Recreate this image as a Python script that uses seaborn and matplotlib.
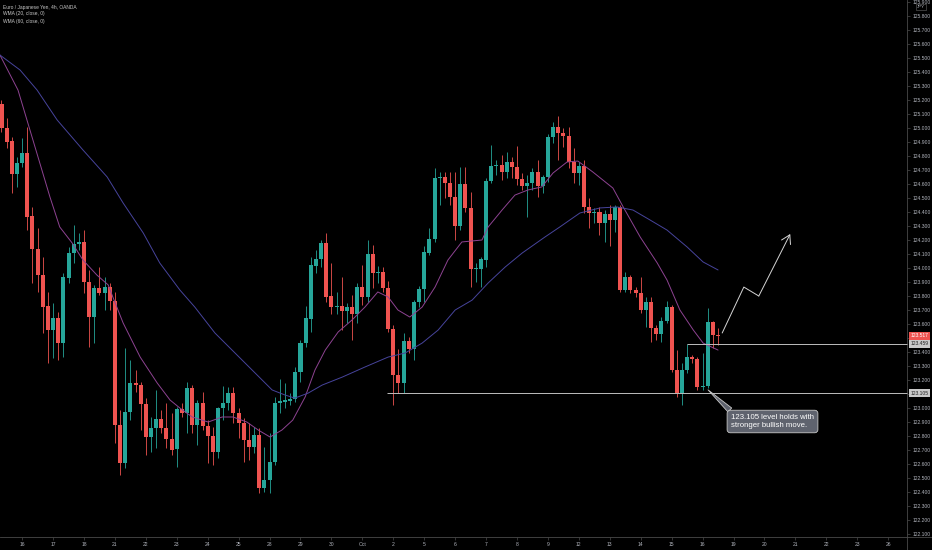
import numpy as np
import pandas as pd
import matplotlib
matplotlib.use("Agg")
import matplotlib.pyplot as plt
import seaborn as sns

# ---------------- data ----------------
opens = [125.171, 125.000, 124.907, 124.671, 124.750, 124.821, 124.371, 124.136, 123.950, 123.729,
         123.557, 123.643, 123.464, 123.929, 124.107, 124.171, 124.186, 123.900, 123.650, 123.857,
         123.821, 123.864, 123.764, 122.879, 122.607, 122.971, 123.179, 123.164, 123.029, 122.793,
         122.857, 122.921, 122.857, 122.779, 122.707, 122.993, 122.964, 123.143, 122.879, 123.036,
         122.871, 122.800, 122.686, 123.000, 123.036, 123.107, 122.964, 122.893, 122.771, 122.721,
         122.807, 122.429, 122.486, 122.614, 123.036, 123.043, 123.050, 123.064, 123.257, 123.464,
         123.636, 124.014, 124.064, 124.179, 123.800, 123.721, 123.729, 123.693, 123.721, 123.671,
         123.864, 123.793, 124.100, 123.964, 123.971, 123.857, 123.564, 123.236, 123.179, 123.479,
         123.421, 123.757, 123.850, 124.107, 124.207, 124.643, 124.650, 124.607, 124.507, 124.300,
         124.600, 124.429, 123.993, 123.993, 124.057, 124.621, 124.729, 124.736, 124.686, 124.757,
         124.721, 124.636, 124.586, 124.607, 124.686, 124.586, 124.650, 124.936, 125.007, 124.964,
         124.943, 124.757, 124.679, 124.729, 124.436, 124.393, 124.400, 124.321, 124.386, 124.343,
         124.436, 123.843, 123.936, 123.843, 123.821, 123.700, 123.757, 123.571, 123.529, 123.621,
         123.721, 123.271, 123.107, 123.271, 123.364, 123.350, 123.150, 123.157, 123.614, 123.525]

highs = [125.200, 125.071, 124.936, 124.793, 124.929, 125.007, 124.436, 124.286, 124.079, 123.829,
         123.750, 123.686, 123.964, 124.150, 124.307, 124.250, 124.271, 123.986, 123.879, 124.007,
         123.936, 123.893, 123.829, 122.986, 123.429, 123.343, 123.271, 123.186, 123.071, 122.936,
         123.129, 122.986, 123.036, 122.964, 123.007, 123.036, 123.186, 123.164, 123.057, 123.114,
         122.914, 122.864, 123.007, 123.157, 123.150, 123.150, 123.000, 122.929, 122.893, 122.864,
         122.857, 122.721, 122.821, 123.079, 123.207, 123.179, 123.107, 123.293, 123.486, 123.729,
         124.079, 124.129, 124.200, 124.250, 124.036, 123.829, 123.936, 123.750, 123.807, 123.893,
         124.021, 124.200, 124.164, 124.014, 124.007, 123.907, 123.593, 123.421, 123.536, 123.507,
         123.771, 123.871, 124.157, 124.286, 124.714, 124.686, 124.686, 124.686, 124.686, 124.721,
         124.721, 124.543, 124.036, 124.079, 124.643, 124.879, 124.771, 124.807, 124.829, 124.793,
         124.871, 124.679, 124.664, 124.714, 124.771, 124.664, 124.957, 125.043, 125.086, 125.000,
         125.007, 124.857, 124.757, 124.771, 124.500, 124.429, 124.436, 124.414, 124.450, 124.450,
         124.450, 123.971, 123.950, 123.864, 123.936, 123.793, 123.793, 123.593, 123.650, 123.764,
         123.736, 123.414, 123.321, 123.459, 123.379, 123.364, 123.393, 123.714, 123.621, 123.571]

lows = [124.971, 124.857, 124.536, 124.579, 124.721, 124.271, 123.893, 123.829, 123.536, 123.321,
        123.357, 123.343, 123.364, 123.893, 124.036, 124.129, 123.821, 123.436, 123.464, 123.807,
        123.700, 123.700, 122.750, 122.521, 122.571, 122.914, 123.114, 122.843, 122.664, 122.686,
        122.714, 122.821, 122.714, 122.664, 122.579, 122.936, 122.821, 122.821, 122.736, 122.843,
        122.607, 122.593, 122.643, 122.914, 122.986, 122.893, 122.786, 122.614, 122.629, 122.679,
        122.393, 122.400, 122.393, 122.593, 122.964, 123.000, 123.021, 123.043, 123.186, 123.436,
        123.543, 123.964, 124.007, 123.757, 123.671, 123.671, 123.557, 123.607, 123.486, 123.607,
        123.736, 123.757, 123.857, 123.893, 123.829, 123.543, 123.021, 123.107, 123.107, 123.393,
        123.343, 123.721, 123.757, 124.093, 124.186, 124.450, 124.500, 124.450, 124.200, 124.271,
        124.400, 123.864, 123.900, 123.864, 124.007, 124.607, 124.664, 124.629, 124.643, 124.643,
        124.593, 124.557, 124.364, 124.557, 124.507, 124.536, 124.614, 124.893, 124.771, 124.864,
        124.714, 124.607, 124.593, 124.393, 124.286, 124.321, 124.236, 124.186, 124.157, 124.257,
        123.829, 123.829, 123.821, 123.793, 123.679, 123.579, 123.471, 123.486, 123.471, 123.607,
        123.257, 123.079, 123.021, 123.250, 123.321, 123.129, 123.129, 123.143, 123.429, 123.450]

closes = [125.000, 124.900, 124.671, 124.750, 124.821, 124.364, 124.136, 123.950, 123.721, 123.557,
          123.643, 123.464, 123.936, 124.107, 124.171, 124.186, 123.900, 123.650, 123.857, 123.821,
          123.864, 123.764, 122.879, 122.607, 122.971, 123.179, 123.164, 123.029, 122.793, 122.857,
          122.921, 122.857, 122.779, 122.700, 122.993, 122.964, 123.143, 122.879, 123.036, 122.871,
          122.800, 122.686, 123.000, 123.036, 123.107, 122.964, 122.893, 122.771, 122.721, 122.807,
          122.429, 122.486, 122.614, 123.036, 123.050, 123.057, 123.064, 123.257, 123.464, 123.643,
          124.021, 124.064, 124.179, 123.793, 123.721, 123.729, 123.693, 123.721, 123.671, 123.864,
          123.793, 124.100, 123.964, 123.971, 123.857, 123.564, 123.236, 123.179, 123.479, 123.421,
          123.757, 123.850, 124.114, 124.207, 124.643, 124.650, 124.607, 124.507, 124.300, 124.600,
          124.429, 123.993, 124.000, 124.064, 124.621, 124.729, 124.736, 124.686, 124.757, 124.721,
          124.636, 124.586, 124.607, 124.686, 124.586, 124.650, 124.936, 125.007, 124.964, 124.943,
          124.757, 124.679, 124.729, 124.436, 124.393, 124.400, 124.321, 124.386, 124.343, 124.436,
          123.843, 123.936, 123.843, 123.821, 123.700, 123.757, 123.571, 123.529, 123.621, 123.721,
          123.271, 123.107, 123.271, 123.364, 123.350, 123.150, 123.157, 123.614, 123.521, 123.517]

# WMA lines (bar position, value)
wma20_bar = [-0.3, 3.2, 6.1, 9.4, 11.3, 13.7, 15.8, 18.5, 20.7, 21.6, 23.6, 26.9, 30.2, 32.7, 34.6,
             37.0, 40.1, 42.8, 44.9, 47.6, 49.8, 52.1, 54.4, 56.5, 58.9, 60.8, 62.8, 65.3, 68.0, 70.5,
             73.0, 75.0, 76.9, 79.2, 81.6, 84.1, 86.6, 89.3, 93.2, 94.4, 97.1, 99.6, 102.1, 104.8,
             107.0, 109.7, 111.8, 114.7, 118.6, 120.6, 123.9, 127.2, 129.1, 131.6, 134.2, 136.1, 139.0]
wma20_val = [125.521, 125.271, 124.914, 124.507, 124.293, 124.179, 124.057, 123.950, 123.879, 123.793,
             123.607, 123.364, 123.179, 123.057, 123.000, 122.936, 122.900, 122.936, 122.936, 122.900,
             122.843, 122.793, 122.843, 122.914, 123.079, 123.271, 123.414, 123.543, 123.629, 123.721,
             123.829, 123.793, 123.700, 123.650, 123.721, 123.864, 124.057, 124.186, 124.200, 124.293,
             124.414, 124.521, 124.557, 124.579, 124.679, 124.757, 124.764, 124.686, 124.571, 124.436,
             124.221, 124.036, 123.914, 123.700, 123.557, 123.464, 123.414]

wma60_bar = [-0.3, 3.6, 6.9, 10.8, 15.8, 20.5, 23.6, 27.5, 30.7, 34.6, 37.5, 41.4, 45.3, 49.2, 52.5,
             55.0, 56.9, 59.5, 62.2, 66.1, 70.5, 75.0, 78.3, 81.6, 84.7, 88.0, 91.3, 94.4, 97.7, 101.0,
             105.4, 108.3, 112.2, 116.1, 119.4, 122.5, 125.8, 129.1, 133.0, 136.1, 139.0]
wma60_val = [125.521, 125.414, 125.271, 125.057, 124.843, 124.650, 124.464, 124.250, 124.036, 123.843,
             123.721, 123.536, 123.393, 123.250, 123.129, 123.093, 123.071, 123.107, 123.164, 123.221,
             123.293, 123.364, 123.393, 123.464, 123.557, 123.700, 123.771, 123.893, 124.007, 124.107,
             124.221, 124.293, 124.393, 124.429, 124.436, 124.414, 124.343, 124.271, 124.150, 124.043,
             123.986]

day_labels = ['16', '17', '18', '21', '22', '23', '24', '25', '28', '29', '30', 'Oct', '2', '5', '6',
              '7', '8', '9', '12', '13', '14', '15', '16', '19', '20', '21', '22', '23', '26']

support_level = 123.105
range_level = 123.459
last_price = 123.517
projection_bar = [139.8, 144.0, 146.9, 153.0]
projection_val = [123.536, 123.864, 123.800, 124.243]

title_lines = ['Euro / Japanese Yen, 4h, OANDA', 'WMA (20, close, 0)', 'WMA (60, close, 0)']
note_text = '123.105 level holds with\nstronger bullish move.'

# ---------------- styling ----------------
UP = '#26a69a'
DOWN = '#ef5350'
TXT = '#b2b5be'
AXC = '#4a4a4a'

sns.set_theme(style='dark', rc={'axes.facecolor': 'black', 'figure.facecolor': 'black',
                                 'axes.grid': False})
plt.rcParams['font.family'] = ['Liberation Sans', 'DejaVu Sans']

W, H = 932, 550
fig = plt.figure(figsize=(W / 100, H / 100), dpi=100)
ax = fig.add_axes([0, 13 / H, 907 / W, 537 / H])
ax.set_facecolor('black')

df = pd.DataFrame({'open': opens, 'high': highs, 'low': lows, 'close': closes})
df['bar'] = np.arange(len(df))
up = df['close'] >= df['open']
cols = np.where(up, UP, DOWN)
bottoms = np.minimum(df['open'], df['close'])
heights = np.maximum((df['close'] - df['open']).abs(), 0.007)

ax.vlines(df['bar'], df['low'], df['high'], colors=cols, linewidth=0.6, zorder=2)
ax.bar(df['bar'], heights, bottom=bottoms, width=0.78, color=cols, linewidth=0, zorder=3)

sns.lineplot(x=wma20_bar, y=wma20_val, ax=ax, color='#8e4392', linewidth=0.7, zorder=4)
sns.lineplot(x=wma60_bar, y=wma60_val, ax=ax, color='#47449c', linewidth=0.7, zorder=4)

x_left, x_right = -0.29, 175.65
ax.set_xlim(x_left, x_right)
ax.set_ylim(122.079, 125.914)

# level lines
ax.hlines(support_level, 74.8, x_right, color='#bdbdbd', linewidth=0.7, zorder=5, clip_on=False)
ax.hlines(range_level, 133.0, x_right, color='#bdbdbd', linewidth=0.7, zorder=5, clip_on=False)

# projection path with arrow
ax.plot(projection_bar[:3], projection_val[:3], color='#d6d6d6', linewidth=0.7, zorder=6)
ax.annotate('', xy=(projection_bar[3], projection_val[3]),
            xytext=(projection_bar[2], projection_val[2]),
            arrowprops=dict(arrowstyle='->,head_length=0.5,head_width=0.3', color='#d6d6d6',
                            lw=0.7, shrinkA=0, shrinkB=0), zorder=6)

# callout
ax.annotate(note_text, xy=(137.05, 123.13), xycoords='data',
            xytext=(731, H - 421.5), textcoords='figure pixels',
            ha='left', va='center', fontsize=5.6, color='white', linespacing=1.15,
            bbox=dict(boxstyle='round,pad=0.5,rounding_size=0.4', fc='#5f636e', ec='#c8c8c8', lw=0.6),
            arrowprops=dict(arrowstyle='wedge,tail_width=0.7,shrink_factor=0.5', fc='#5f636e',
                            ec='#c8c8c8', lw=0.6, relpos=(0.04, 1.0), shrinkA=0, shrinkB=0),
            zorder=7)

# axes/ticks (labels hidden where a price tag sits)
yt = np.round(np.arange(122.1, 125.95, 0.1), 1)
hidden = {123.1, 123.5}
ax.yaxis.tick_right()
ax.set_yticks(yt)
ax.set_yticklabels(['' if v in hidden else f'{v:.3f}' for v in yt])
ax.set_xticks([4 + 6 * k for k in range(len(day_labels))])
ax.set_xticklabels(day_labels)
ax.tick_params(axis='y', colors=AXC, labelcolor=TXT, labelsize=3.6, length=2.5, width=0.5, pad=1.3,
               direction='out', right=True, left=False)
ax.tick_params(axis='x', colors=AXC, labelcolor=TXT, labelsize=3.6, length=2.0, width=0.5, pad=1.8,
               direction='out', bottom=True)
for s in ['top', 'left']:
    ax.spines[s].set_visible(False)
for s in ['right', 'bottom']:
    ax.spines[s].set_visible(True)
    ax.spines[s].set_color(AXC)
    ax.spines[s].set_linewidth(0.6)
ax.set_xlabel('')
ax.set_ylabel('')

# extend the axis lines to the figure edges
fig.add_artist(plt.Line2D([907 / W, 1], [13 / H, 13 / H], color=AXC, lw=0.6, transform=fig.transFigure))
fig.add_artist(plt.Line2D([907 / W, 907 / W], [0, 13 / H], color=AXC, lw=0.6, transform=fig.transFigure))

# price tags on the axis
ytr = ax.get_yaxis_transform()
tags = [(last_price, DOWN, 'white'), (range_level, '#c9c9c9', '#222222'), (support_level, '#c9c9c9', '#222222')]
for val, fc, tc in tags:
    ax.text(1.004, val, f'{val:.3f}', transform=ytr, ha='left', va='center', fontsize=3.6, color=tc,
            bbox=dict(boxstyle='square,pad=0.3', fc=fc, ec='none'), clip_on=False, zorder=10)

# currency tag at top
fig.text(921 / W, 1 - 7 / H, 'JPY', ha='center', va='center', fontsize=3.2, color=TXT,
         bbox=dict(boxstyle='square,pad=0.25', fc='black', ec='#666666', lw=0.4), zorder=10)

# header lines
for k, line in enumerate(title_lines):
    fig.text(3 / W, 1 - (7 + 7 * k) / H, line, ha='left', va='center', fontsize=3.5, color='#c8c8c8')

fig.savefig('out.png', dpi=100, facecolor='black')
